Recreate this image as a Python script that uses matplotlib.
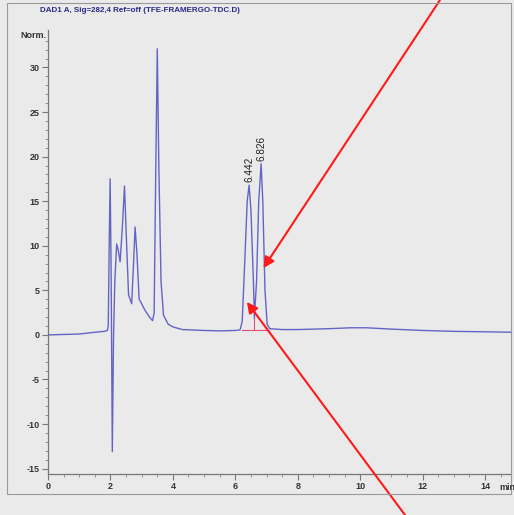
import numpy as np
import matplotlib
matplotlib.use('Agg')
import matplotlib.pyplot as plt
from matplotlib.patches import Rectangle

plt.rcParams['axes.unicode_minus'] = False

# chromatogram trace, read point by point (time in min, signal in Norm.)
time = [0.0, 0.5, 1.0, 1.5, 1.8, 1.9, 1.93, 1.96, 1.99, 2.02, 2.06, 2.10,
        2.14, 2.20, 2.25, 2.31, 2.38, 2.45, 2.52, 2.58, 2.68, 2.74, 2.79,
        2.85, 2.92, 2.97, 3.10, 3.25, 3.35, 3.40, 3.45, 3.50, 3.55, 3.62,
        3.70, 3.85, 4.0, 4.3, 5.0, 5.5, 6.0, 6.15, 6.22, 6.30, 6.38, 6.442,
        6.50, 6.58, 6.61, 6.68, 6.75, 6.826, 6.88, 6.95, 7.02, 7.1, 7.5,
        8.0, 9.0, 9.7, 10.2, 11.0, 12.0, 13.0, 14.0, 14.83]
signal = [0.0, 0.05, 0.1, 0.3, 0.4, 0.5, 1.0, 10.0, 17.5, 8.0, -13.1, 0.0,
          6.0, 10.2, 9.5, 8.2, 12.0, 16.7, 10.0, 4.5, 3.5, 8.0, 12.1,
          9.0, 4.0, 3.7, 2.8, 2.0, 1.6, 2.5, 18.0, 32.1, 19.0, 6.0,
          2.2, 1.2, 0.9, 0.6, 0.5, 0.45, 0.5, 0.55, 1.5, 8.0, 15.0, 16.8,
          14.0, 6.0, 1.9, 6.0, 15.0, 19.2, 15.0, 5.0, 1.2, 0.7, 0.6,
          0.6, 0.7, 0.8, 0.8, 0.65, 0.5, 0.4, 0.35, 0.3]

# integrated peaks
peak_rt = [6.442, 6.826]
peak_height = [16.8, 19.2]
base_start, base_end, base_level = 6.20, 7.05, 0.56
valley_rt, valley_level = 6.61, 1.9

# arrow tips (data) and tails (figure pixels)
arrow_tips = [(6.90, 7.5), (6.37, 3.7)]
arrow_tails = [(440, 515), (405, 0)]

bg = '#eaeaea'
font = ['Liberation Sans', 'DejaVu Sans']

fig = plt.figure(figsize=(5.14, 5.15), dpi=100, facecolor=bg)
ax = fig.add_axes([48/514, 1 - 474/515, 463/514, 444/515])
ax.set_facecolor(bg)

ax.plot(time, signal, color='#6464c8', lw=1.0)

# integration baseline and drop line
ax.plot([base_start, base_end], [base_level, base_level], color='#e0507a', lw=0.8)
ax.plot([valley_rt, valley_rt], [base_level, valley_level], color='#e0507a', lw=0.8)

for rt, h in zip(peak_rt, peak_height):
    ax.annotate(f'{rt:.3f}', (rt, h), xytext=(0, 2), textcoords='offset points',
                rotation=90, ha='center', va='bottom', fontsize=7.2,
                family=font, color='#222222')

ax.set_xlim(0, 14.83)
ax.set_ylim(-15.6, 34.2)
ax.set_xticks(np.arange(0, 15, 2))
ax.set_xticks(np.arange(0, 14.9, 0.5), minor=True)
ax.set_yticks(np.arange(-15, 31, 5))
ax.set_yticks(np.arange(-15, 34, 1), minor=True)
for s in ['top', 'right']:
    ax.spines[s].set_visible(False)
for s in ['left', 'bottom']:
    ax.spines[s].set_color('#777777')
    ax.spines[s].set_linewidth(0.9)
ax.tick_params(which='major', length=4, width=0.8, color='#777777',
               labelsize=6.5, labelcolor='#333333', pad=2)
ax.tick_params(which='minor', length=2, width=0.6, color='#888888')
for lab in ax.get_xticklabels() + ax.get_yticklabels():
    lab.set_family(font)
    lab.set_fontweight('bold')

fig.text(20/514, 1 - 35/515, 'Norm.', fontsize=6.5, family=font, fontweight='bold',
         color='#333333', va='center')
fig.text(499/514, 1 - 487/515, 'min', fontsize=6.5, family=font, fontweight='bold',
         color='#333333', va='center')
fig.text(140/514, 1 - 11/515, 'DAD1 A, Sig=282,4 Ref=off (TFE-FRAMERGO-TDC.D)',
         fontsize=5.8, family=font, fontweight='bold', color='#2a2a8a',
         ha='center', va='center')

fig.patches.append(Rectangle((7/514, 1 - 494/515), 504/514, 491/515,
                             transform=fig.transFigure, fill=False,
                             edgecolor='#9a9a9a', lw=0.8))

for tip, tail in zip(arrow_tips, arrow_tails):
    ax.annotate('', xy=tip, xycoords='data', xytext=tail,
                textcoords='figure pixels', annotation_clip=False,
                arrowprops=dict(arrowstyle='-|>', color='#ff1a1a', lw=1.5,
                                mutation_scale=16, shrinkA=0, shrinkB=0))

fig.savefig('out.png', dpi=100, facecolor=bg)
